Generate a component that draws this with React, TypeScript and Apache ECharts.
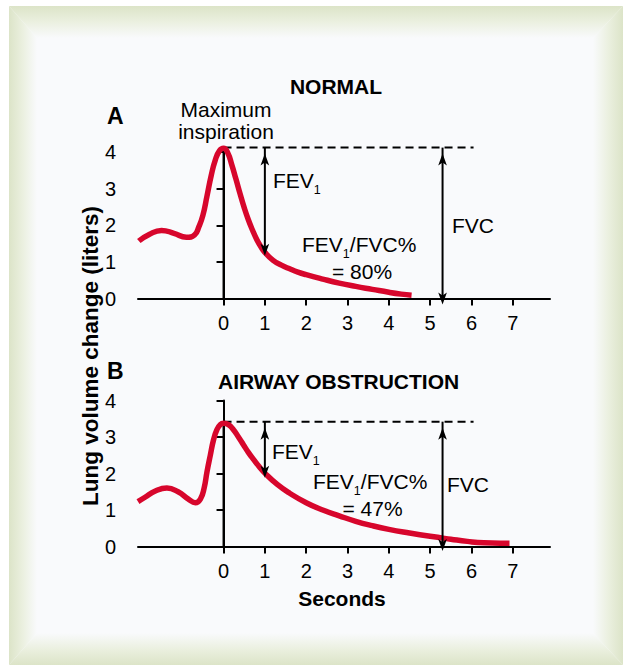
import React, { useEffect, useRef } from "react";
import * as echarts from "echarts";

const FONT = '"Liberation Sans", Arial, Helvetica, sans-serif';
const RED = "#d7062c";
const INNER = "#f9fafc";
const GREEN = "#dce4c8";
const GREEN_MID = "#ebf0e0";

// axis ticks
const secondTicks = [0, 1, 2, 3, 4, 5, 6, 7];
const xMin = -2.07;
const xMax = 7.9;

// A: NORMAL spirogram
const normalSeconds = [-2.05, -1.8, -1.5, -1.2, -0.9, -0.7, -0.6, -0.5, -0.4, -0.3, -0.2, -0.1, 0, 0.1, 0.2, 0.3, 0.4, 0.5, 0.6, 0.7, 0.8, 0.9, 1.0, 1.2, 1.4, 1.6, 1.8, 2.0, 2.4, 2.8, 3.2, 3.6, 4.0, 4.3, 4.55];
const normalLiters = [1.57, 1.75, 1.86, 1.78, 1.67, 1.74, 1.95, 2.27, 2.8, 3.35, 3.78, 4.03, 4.1, 3.98, 3.65, 3.26, 2.86, 2.48, 2.15, 1.87, 1.62, 1.42, 1.26, 1.04, 0.91, 0.81, 0.72, 0.65, 0.53, 0.42, 0.33, 0.25, 0.17, 0.12, 0.09];

// B: AIRWAY OBSTRUCTION spirogram
const obstructionSeconds = [-2.07, -1.9, -1.65, -1.37, -1.1, -0.85, -0.68, -0.56, -0.47, -0.4, -0.32, -0.24, -0.16, -0.08, 0, 0.12, 0.24, 0.36, 0.48, 0.6, 0.73, 0.86, 1.0, 1.3, 1.6, 2.0, 2.4, 2.8, 3.2, 3.6, 4.0, 4.5, 5.0, 5.5, 5.9, 6.3, 6.7, 6.92];
const obstructionLiters = [1.23, 1.35, 1.52, 1.6, 1.5, 1.3, 1.2, 1.3, 1.6, 2.05, 2.5, 2.93, 3.2, 3.34, 3.38, 3.34, 3.2, 3.0, 2.79, 2.58, 2.38, 2.19, 2.01, 1.7, 1.46, 1.2, 1.0, 0.84, 0.69, 0.57, 0.47, 0.37, 0.28, 0.2, 0.14, 0.1, 0.09, 0.09];

// annotation levels (liters / seconds)
const normalFVCLevel = 4.12;
const normalFEV1Level = 1.33;
const obstructionFVCLevel = 3.42;
const obstructionFEV1Level = 2.05;
const fev1Second = 1;
const fvcSecond = 5.3;
const dashEndSecond = 6.05;

const zip = (xs: number[], ys: number[]) => xs.map((x, i) => [x, ys[i]]);

function arrowSeries(idx: number, x: number, top: number, bottom: number) {
  return {
    type: "line",
    xAxisIndex: idx,
    yAxisIndex: idx,
    silent: true,
    clip: false,
    z: 5,
    showSymbol: true,
    showAllSymbol: true,
    symbol: "arrow",
    symbolSize: [6.5, 12],
    symbolOffset: [0, "50%"],
    itemStyle: { color: "#000" },
    lineStyle: { color: "#000", width: 2 },
    data: [
      { value: [x, top], symbolRotate: 0 },
      { value: [x, bottom], symbolRotate: 180 },
    ],
  };
}

function panelSeries(idx: number, xs: number[], ys: number[], fvc: number, fev1: number, fvcBottom: number) {
  return [
    {
      type: "line",
      xAxisIndex: idx,
      yAxisIndex: idx,
      data: [[0, 0], [0, fvc]],
      symbol: "none",
      silent: true,
      clip: false,
      z: 1,
      lineStyle: { color: "#000", width: 2 },
    },
    {
      type: "line",
      xAxisIndex: idx,
      yAxisIndex: idx,
      data: [[0, fvc], [dashEndSecond, fvc]],
      symbol: "none",
      silent: true,
      clip: false,
      z: 1,
      lineStyle: { color: "#000", width: 2, type: [8, 5] },
    },
    {
      type: "line",
      xAxisIndex: idx,
      yAxisIndex: idx,
      data: zip(xs, ys),
      symbol: "none",
      showSymbol: false,
      smooth: 0.5,
      silent: true,
      clip: false,
      z: 3,
      lineStyle: { color: RED, width: 5.5, cap: "butt" },
    },
    arrowSeries(idx, fev1Second, fvc, fev1),
    arrowSeries(idx, fvcSecond, fvc, fvcBottom),
  ];
}

function axisX(idx: number) {
  return {
    gridIndex: idx,
    type: "value",
    min: xMin,
    max: xMax,
    axisLine: { show: true, lineStyle: { color: "#000", width: 2 } },
    axisTick: { show: true, customValues: secondTicks, length: 7, lineStyle: { color: "#000", width: 2 } },
    axisLabel: { show: true, customValues: secondTicks, color: "#000", fontSize: 20, fontFamily: FONT, margin: 14 },
    splitLine: { show: false },
  };
}

function axisY(idx: number) {
  return {
    gridIndex: idx,
    type: "value",
    min: 0,
    max: 4,
    interval: 1,
    axisLine: { show: true, lineStyle: { color: "#000", width: 2 } },
    axisTick: { show: true, length: 7, lineStyle: { color: "#000", width: 2 } },
    axisLabel: { color: "#000", fontSize: 20, fontFamily: FONT, margin: 22 },
    splitLine: { show: false },
  };
}

function txt(text: string, x: number, y: number, align: string, bold = false, size = 21, rotation = 0) {
  return {
    type: "text",
    x,
    y,
    rotation,
    silent: true,
    style: {
      text,
      fill: "#000",
      fontSize: size,
      fontWeight: bold ? "bold" : "normal",
      fontFamily: FONT,
      align,
      verticalAlign: "middle",
    },
  };
}

function measure(text: string, size: number) {
  const ctx = document.createElement("canvas").getContext("2d");
  if (!ctx) return text.length * size * 0.6;
  ctx.font = `normal ${size}px ${FONT}`;
  return ctx.measureText(text).width;
}

// "FEV" + subscript "1" + optional tail, all left-aligned from x
function fevText(x: number, y: number, tail: string) {
  const w1 = measure("FEV", 21);
  const w2 = measure("1", 12.5);
  const els: any[] = [txt("FEV", x, y, "left"), txt("1", x + w1, y + 9.5, "left", false, 12.5)];
  if (tail) els.push(txt(tail, x + w1 + w2, y, "left"));
  return els;
}

function frame() {
  const L = 9, T = 6, R = 623, B = 665;
  const l = 37, t = 38, r = 593, b = 633;
  const g = (x0: number, y0: number, x1: number, y1: number) =>
    new echarts.graphic.LinearGradient(x0, y0, x1, y1, [
      { offset: 0, color: GREEN },
      { offset: 0.5, color: GREEN_MID },
      { offset: 1, color: INNER },
    ]);
  return [
    { type: "rect", silent: true, shape: { x: 0, y: 0, width: 623, height: T }, style: { fill: "#fff" } },
    { type: "rect", silent: true, shape: { x: 0, y: 0, width: L, height: 665 }, style: { fill: "#fff" } },
    { type: "polygon", silent: true, shape: { points: [[L, T], [R, T], [r, t], [l, t]] }, style: { fill: g(0, 0, 0, 1) } },
    { type: "polygon", silent: true, shape: { points: [[L, B], [R, B], [r, b], [l, b]] }, style: { fill: g(0, 1, 0, 0) } },
    { type: "polygon", silent: true, shape: { points: [[L, T], [l, t], [l, b], [L, B]] }, style: { fill: g(0, 0, 1, 0) } },
    { type: "polygon", silent: true, shape: { points: [[R, T], [r, t], [r, b], [R, B]] }, style: { fill: g(1, 0, 0, 0) } },
  ];
}

export default function App() {
  const ref = useRef<HTMLDivElement>(null);
  useEffect(() => {
    const chart = echarts.init(ref.current!, null, { renderer: "svg" });
    const option: any = {
      animation: false,
      backgroundColor: INNER,
      grid: [
        { left: 138, top: 152, width: 412, height: 146.5 },
        { left: 138, top: 400.5, width: 412, height: 146 },
      ],
      xAxis: [axisX(0), axisX(1)],
      yAxis: [axisY(0), axisY(1)],
      series: [
        ...panelSeries(0, normalSeconds, normalLiters, normalFVCLevel, normalFEV1Level, 0),
        ...panelSeries(1, obstructionSeconds, obstructionLiters, obstructionFVCLevel, obstructionFEV1Level, 0.04),
      ],
      graphic: {
        elements: [
          ...frame(),
          txt("NORMAL", 336, 86, "center", true),
          txt("A", 107, 116, "left", true, 23),
          txt("Maximum", 226, 109, "center"),
          txt("inspiration", 226, 131, "center"),
          ...fevText(273, 180, ""),
          ...fevText(302, 244.5, "/FVC%"),
          txt("= 80%", 362, 271, "center"),
          txt("FVC", 452, 225, "left"),
          txt("B", 107, 371, "left", true, 23),
          txt("AIRWAY OBSTRUCTION", 218, 381, "left", true),
          ...fevText(272, 451, ""),
          ...fevText(313, 481.5, "/FVC%"),
          txt("= 47%", 372.5, 508.5, "center"),
          txt("FVC", 447, 484.5, "left"),
          txt("Seconds", 342, 598.5, "center", true),
          txt("Lung volume change (liters)", 90, 356, "center", true, 22.5, Math.PI / 2),
        ],
      },
    };
    chart.setOption(option);
    return () => chart.dispose();
  }, []);
  return <div ref={ref} style={{ position: "absolute", left: 0, top: 0, width: 623, height: 665 }} />;
}
